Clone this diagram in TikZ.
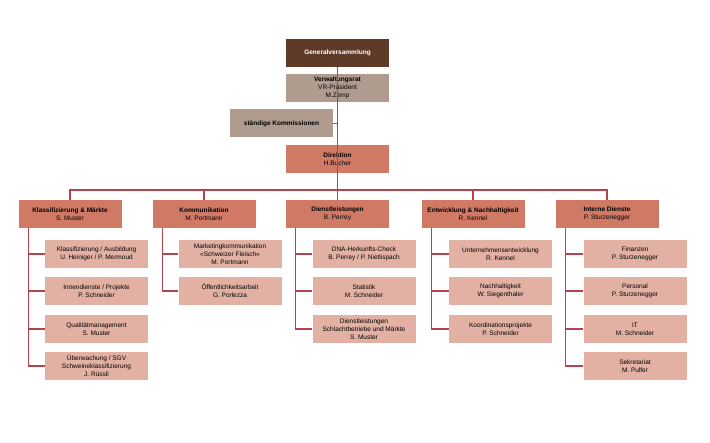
\documentclass[tikz,border=0pt]{standalone}
\usepackage{fontspec}
\setmainfont{Liberation Sans}
\usepackage{tikz}
\definecolor{gvbrown}{HTML}{5E3A28}
\definecolor{vrgrey}{HTML}{B09C8E}
\definecolor{leadred}{HTML}{D07A66}
\definecolor{subpink}{HTML}{E3B1A3}
\definecolor{linered}{HTML}{B5434A}
\tikzset{
	box/.style={minimum width=103pt, minimum height=28pt, inner sep=1pt, align=center,
		font=\fontsize{6.5}{7.8}\selectfont},
	gvbox/.style={box, fill=gvbrown, text=white, font=\fontsize{6.5}{7.8}\selectfont\bfseries},
	vrbox/.style={box, fill=vrgrey},
	leadbox/.style={box, fill=leadred},
	subbox/.style={box, fill=subpink},
	link/.style={draw=linered, line width=1.2pt},
}
\begin{document}
\begin{tikzpicture}[x=1pt, y=-1pt]
	\useasboundingbox (0, 0) rectangle (710, 443);

	% oberste Ebene
	\node[gvbox] (gv) at (337.5, 53) {Generalversammlung};
	\node[vrbox] (vr) at (337.5, 88) {\textbf{Verwaltungsrat}\\VR-Präsident\\M.Zemp};
	\node[vrbox, text depth=0pt] (sk) at (281.5, 123.5) {\textbf{ständige Kommissionen}};
	\node[leadbox] (dir) at (337.5, 159) {\textbf{Direktion}\\H.Bucher};

	% Stamm
	\coordinate (bar) at (337.5, 190);
	\draw[link] (gv) -- (bar);
	\draw[link] (sk.east) -- (sk.east -| gv);

	% Abteilungen
	\node[leadbox] (km) at (70, 214) {\textbf{Klassifizierung \& Märkte}\\S. Muster};
	\node[leadbox] (ko) at (204, 214) {\textbf{Kommunikation}\\M. Portmann};
	\node[leadbox] (dl) at (337.5, 214) {\textbf{Dienstleistungen}\\B. Perrey};
	\node[leadbox] (en) at (473, 214) {\textbf{Entwicklung \& Nachhaltigkeit}\\R. Kennel};
	\node[leadbox] (id) at (607, 214) {\textbf{Interne Dienste}\\P. Sturzenegger};

	\draw[link] (km.north) |- (bar) -| (id.north);
	\foreach \n in {ko, dl, en}
		\draw[link] (\n.north) -- (\n.north |- bar);

	% Klassifizierung & Märkte
	\node[subbox] (km1) at (96.5, 254) {Klassifizierung / Ausbildung\\U. Heiniger / P. Mermoud};
	\node[subbox] (km2) at (96.5, 291) {Innendienste / Projekte\\P. Schneider};
	\node[subbox] (km3) at (96.5, 329) {Qualitätmanagement\\S. Muster};
	\node[subbox] (km4) at (96.5, 366) {Überwachung / SGV\\Schweineklassifizierung\\J. Rüssli};

	% Kommunikation
	\node[subbox] (ko1) at (230, 254) {Marketingkommunikation\\«Schweizer Fleisch»\\M. Portmann};
	\node[subbox] (ko2) at (230, 291) {Öffentlichkeitsarbeit\\G. Porlezza};

	% Dienstleistungen
	\node[subbox] (dl1) at (364, 254) {DNA-Herkunfts-Check\\B. Perrey / P. Nietlispach};
	\node[subbox] (dl2) at (364, 291) {Statistik\\M. Schneider};
	\node[subbox] (dl3) at (364, 329) {Dienstleistungen\\Schlachtbetriebe und Märkte\\S. Muster};

	% Entwicklung & Nachhaltigkeit
	\node[subbox] (en1) at (500.5, 254) {Unternehmensentwicklung\\R. Kennel};
	\node[subbox] (en2) at (500.5, 291) {Nachhaltigkeit\\W. Siegenthaler};
	\node[subbox] (en3) at (500.5, 329) {Koordinationsprojekte\\P. Schneider};

	% Interne Dienste
	\node[subbox] (id1) at (635, 254) {Finanzen\\P. Sturzenegger};
	\node[subbox] (id2) at (635, 291) {Personal\\P. Sturzenegger};
	\node[subbox] (id3) at (635, 329) {IT\\M. Schneider};
	\node[subbox] (id4) at (635, 366) {Sekretariat\\M. Pulfer};

	% Verbindungen zu den Stellen
	\foreach \n/\last in {km/4, ko/2, dl/3, en/3, id/4} {
		\coordinate (\n top) at ([xshift=10pt]\n.south west);
		\draw[link] (\n top) |- (\n\last.west);
		\foreach \i in {1, ..., \last}
			\draw[link] (\n\i.west) -- (\n\i.west -| \n top);
	}
\end{tikzpicture}
\end{document}
